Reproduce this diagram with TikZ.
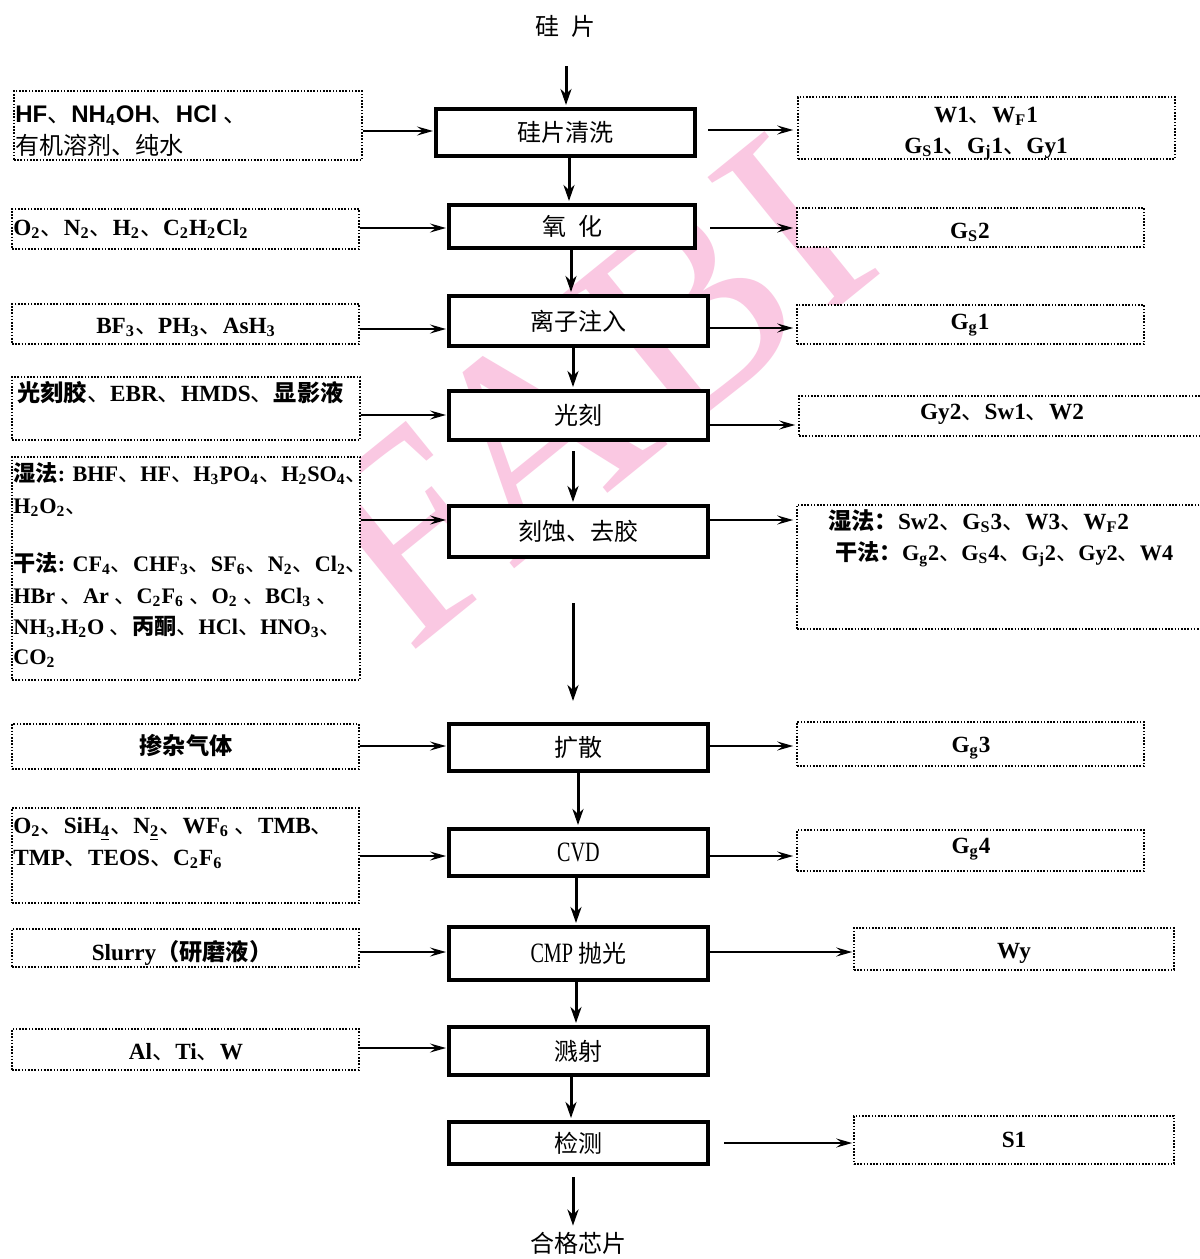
\documentclass[tikz,border=0pt]{standalone}
\usepackage{fontspec}
\setmainfont{Liberation Serif}
\newfontfamily\cjk{Noto Sans CJK SC}
\newfontfamily\arialf{Liberation Sans}
\newfontfamily\narrowf[FakeStretch=0.72]{Liberation Serif}
\usetikzlibrary{arrows.meta}
\definecolor{wm}{RGB}{250,200,226}
\newcommand{\dn}{{\cjk\mdseries 、}}
\newcommand{\sbs}[1]{\textsubscript{#1}}
\newcommand{\cj}[1]{{\cjk #1}}
\tikzset{
  mainbox/.style={draw, line width=2pt, fill=white, inner sep=0pt, font=\cjk\fontsize{12}{14}\selectfont},
  sidebox/.style={draw, line width=0.8pt, dash pattern=on 0.8pt off 0.8pt, fill=white, inner sep=0pt},
  lt/.style={inner sep=0pt, anchor=west, text height=9pt, text depth=2pt, font=\fontsize{11.6}{13}\selectfont\bfseries},
  ltw/.style={lt, font=\fontsize{11.1}{13}\selectfont\bfseries},
  ct/.style={lt, anchor=center},
  cjt/.style={inner sep=0pt, text height=9pt, text depth=2pt, font=\cjk\fontsize{12}{14}\selectfont},
  latn/.style={font=\narrowf\fontsize{14}{16}\selectfont},
  varr/.style={line width=1.5pt, -{Stealth[length=8pt,width=5.5pt,inset=2.5pt]}, shorten >=1pt},
  harr/.style={line width=1pt, -{Stealth[length=8pt,width=4.5pt,inset=3pt]}, shorten >=0.5pt}
}
\begin{document}
\begin{tikzpicture}[x=0.5pt,y=-0.5pt]
\useasboundingbox (0,0) rectangle (1200,1259);
\clip (0,0) rectangle (1200,1259);
\fill[white] (0,0) rectangle (1200,1259);
% watermark
\node[text=wm, rotate=39, inner sep=0pt, font=\fontsize{140}{140}\selectfont] (WM) at (590,390) {FABI};
% main flow
\node[cjt] (T) at (565,28) {硅\hspace{0.5em}片};
\node[mainbox, minimum width=129.5pt, minimum height=23.5pt] (M1) at (565.5,132.5) {硅片清洗};
\node[mainbox, minimum width=123pt, minimum height=21.5pt] (M2) at (572,226.5) {\raisebox{-1pt}{氧\hspace{0.5em}化}};
\node[mainbox, minimum width=129.5pt, minimum height=25pt] (M3) at (578.5,321) {离子注入};
\node[mainbox, minimum width=129.5pt, minimum height=24.5pt] (M4) at (578.5,415.5) {光刻};
\node[mainbox, minimum width=129.5pt, minimum height=25.5pt] (M5) at (578.5,531.5) {刻蚀、去胶};
\node[mainbox, minimum width=129.5pt, minimum height=23.5pt] (M6) at (578.5,747.5) {扩散};
\node[mainbox, latn, minimum width=129.5pt, minimum height=23.5pt] (M7) at (578.5,852.5) {CVD};
\node[mainbox, minimum width=129.5pt, minimum height=26.5pt] (M8) at (578.5,953.5) {{\narrowf\fontsize{14}{16}\selectfont CMP} 抛光};
\node[mainbox, minimum width=129.5pt, minimum height=24pt] (M9) at (578.5,1051) {溅射};
\node[mainbox, minimum width=129.5pt, minimum height=21pt] (M10) at (578.5,1143) {检测};
\node[cjt] (B) at (578,1245) {合格芯片};
% left boxes
\node[sidebox, minimum width=174pt, minimum height=34.5pt] (L1) at (188,125.5) {};
\node[sidebox, minimum width=173.5pt, minimum height=20pt] (L2) at (185.5,229) {};
\node[sidebox, minimum width=173.5pt, minimum height=20pt] (L3) at (185.5,324) {};
\node[sidebox, minimum width=174pt, minimum height=31.5pt] (L4) at (186,408.5) {};
\node[sidebox, minimum width=174pt, minimum height=111.5pt] (L5) at (186,568.5) {};
\node[sidebox, minimum width=173.5pt, minimum height=22.5pt] (L6) at (185.5,746.5) {};
\node[sidebox, minimum width=173.5pt, minimum height=47.5pt] (L7) at (185.5,855.5) {};
\node[sidebox, minimum width=173.5pt, minimum height=19pt] (L8) at (185.5,948) {};
\node[sidebox, minimum width=173.5pt, minimum height=20.5pt] (L9) at (185.5,1049.5) {};
% left texts
\node[lt, font=\arialf\bfseries\fontsize{12}{14}\selectfont] (L1a) at (15,115) {HF\dn NH\sbs{4}OH\dn HCl \dn};
\node[lt, font=\cjk\fontsize{12}{14}\selectfont] (L1b) at (15,147) {有机溶剂、纯水};
\node[lt] (L2a) at (13,228) {O\sbs{2}\dn N\sbs{2}\dn H\sbs{2}\dn C\sbs{2}H\sbs{2}Cl\sbs{2}};
\node[ct] (L3a) at (186,326) {BF\sbs{3}\dn PH\sbs{3}\dn AsH\sbs{3}};
\node[lt] (L4a) at (17,394) {\cj{光刻胶}\dn EBR\dn HMDS\dn \cj{显影液}};
\node[ltw] (L5a) at (13,474) {\cj{湿法}: BHF\dn HF\dn H\sbs{3}PO\sbs{4}\dn H\sbs{2}SO\sbs{4}\dn};
\node[ltw] (L5b) at (13,506) {H\sbs{2}O\sbs{2}\dn};
\node[ltw] (L5c) at (13,564) {\cj{干法}: CF\sbs{4}\dn CHF\sbs{3}\dn SF\sbs{6}\dn N\sbs{2}\dn Cl\sbs{2}\dn};
\node[ltw] (L5d) at (13,596) {HBr \dn Ar \dn C\sbs{2}F\sbs{6} \dn O\sbs{2} \dn BCl\sbs{3} \dn};
\node[ltw] (L5e) at (13,627) {NH\sbs{3}.H\sbs{2}O \dn \cj{丙酮}\dn HCl\dn HNO\sbs{3}\dn};
\node[ltw] (L5f) at (13,657) {CO\sbs{2}};
\node[ct] (L6a) at (186,747) {\cj{掺杂气体}};
\node[lt] (L7a) at (13,826) {O\sbs{2}\dn SiH\sbs{\underline{4}}\dn N\sbs{\underline{2}}\dn WF\sbs{6} \dn TMB\dn};
\node[lt] (L7b) at (13,858) {TMP\dn TEOS\dn C\sbs{2}F\sbs{6}};
\node[ct] (L8a) at (182,953) {Slurry\cj{（研磨液）}};
\node[ct] (L9a) at (186,1052) {Al\dn Ti\dn W};
% right boxes
\node[sidebox, minimum width=188.5pt, minimum height=31pt] (R1) at (986.5,128) {};
\node[sidebox, minimum width=173.5pt, minimum height=19.5pt] (R2) at (970.5,227.5) {};
\node[sidebox, minimum width=173.5pt, minimum height=19.5pt] (R3) at (970.5,324.5) {};
\node[sidebox, minimum width=203pt, minimum height=20pt] (R4) at (1002,416) {};
\node[sidebox, minimum width=204pt, minimum height=62pt] (R5) at (1001,567) {};
\node[sidebox, minimum width=173.5pt, minimum height=22pt] (R6) at (970.5,744) {};
\node[sidebox, minimum width=173.5pt, minimum height=20.5pt] (R7) at (970.5,850.5) {};
\node[sidebox, minimum width=160pt, minimum height=21pt] (R8) at (1014,949) {};
\node[sidebox, minimum width=160pt, minimum height=24pt] (R9) at (1014,1140) {};
% right texts
\node[ct] (R1a) at (986,115) {W1\dn W\sbs{F}1};
\node[ct] (R1b) at (986,146) {G\sbs{S}1\dn G\sbs{j}1\dn Gy1};
\node[ct] (R2a) at (970,231) {G\sbs{S}2};
\node[ct] (R3a) at (970,322) {G\sbs{g}1};
\node[ct] (R4a) at (1002,412) {Gy2\dn Sw1\dn W2};
\node[lt] (R5a) at (828,522) {\cj{湿法：}Sw2\dn G\sbs{S}3\dn W3\dn W\sbs{F}2};
\node[ltw] (R5b) at (835,553) {\cj{干法：}G\sbs{g}2\dn G\sbs{S}4\dn G\sbs{j}2\dn Gy2\dn W4};
\node[ct] (R6a) at (971,745) {G\sbs{g}3};
\node[ct] (R7a) at (971,846) {G\sbs{g}4};
\node[ct] (R8a) at (1014,951) {Wy};
\node[ct] (R9a) at (1014,1140) {S1};
% vertical arrows
\draw[varr, shorten <=13.5pt] (T.south -| 566,0) -- (M1.north -| 566,0);
\draw[varr] (M1.south -| 569,0) -- (M2.north -| 569,0);
\draw[varr] (M2.south -| 571,0) -- (M3.north -| 571,0);
\draw[varr] (M3.south -| 573,0) -- (M4.north -| 573,0);
\draw[varr, shorten <=4.5pt] (M4.south -| 573,0) -- (M5.north -| 573,0);
\draw[varr, shorten <=22pt, shorten >=10.5pt] (M5.south -| 573,0) -- (M6.north -| 573,0);
\draw[varr] (M6.south -| 578,0) -- (M7.north -| 578,0);
\draw[varr] (M7.south -| 576,0) -- (M8.north -| 576,0);
\draw[varr] (M8.south -| 576,0) -- (M9.north -| 576,0);
\draw[varr] (M9.south -| 571,0) -- (M10.north -| 571,0);
\draw[varr, shorten <=5.5pt, shorten >=4pt] (M10.south -| 573,0) -- (B.north -| 573,0);
% left arrows
\draw[harr] (L1.east |- 0,131) -- (M1.west |- 0,131);
\draw[harr] (L2.east |- 0,228) -- (M2.west |- 0,228);
\draw[harr] (L3.east |- 0,329) -- (M3.west |- 0,329);
\draw[harr] (L4.east |- 0,415) -- (M4.west |- 0,415);
\draw[harr] (L5.east |- 0,520) -- (M5.west |- 0,520);
\draw[harr] (L6.east |- 0,746) -- (M6.west |- 0,746);
\draw[harr] (L7.east |- 0,856) -- (M7.west |- 0,856);
\draw[harr] (L8.east |- 0,952) -- (M8.west |- 0,952);
\draw[harr] (L9.east |- 0,1048) -- (M9.west |- 0,1048);
% right arrows
\draw[harr, shorten <=5.5pt, shorten >=2pt] (M1.east |- 0,130) -- (R1.west |- 0,130);
\draw[harr, shorten <=6.5pt, shorten >=1.5pt] (M2.east |- 0,228) -- (R2.west |- 0,228);
\draw[harr, shorten >=1.5pt] (M3.east |- 0,328) -- (R3.west |- 0,328);
\draw[harr, shorten >=1.5pt] (M4.east |- 0,425) -- (R4.west |- 0,425);
\draw[harr, shorten >=1.5pt] (M5.east |- 0,520) -- (R5.west |- 0,520);
\draw[harr, shorten >=1.5pt] (M6.east |- 0,746) -- (R6.west |- 0,746);
\draw[harr, shorten >=1.5pt] (M7.east |- 0,856) -- (R7.west |- 0,856);
\draw[harr] (M8.east |- 0,952) -- (R8.west |- 0,952);
\draw[harr, shorten <=7pt] (M10.east |- 0,1143) -- (R9.west |- 0,1143);
\end{tikzpicture}
\end{document}
